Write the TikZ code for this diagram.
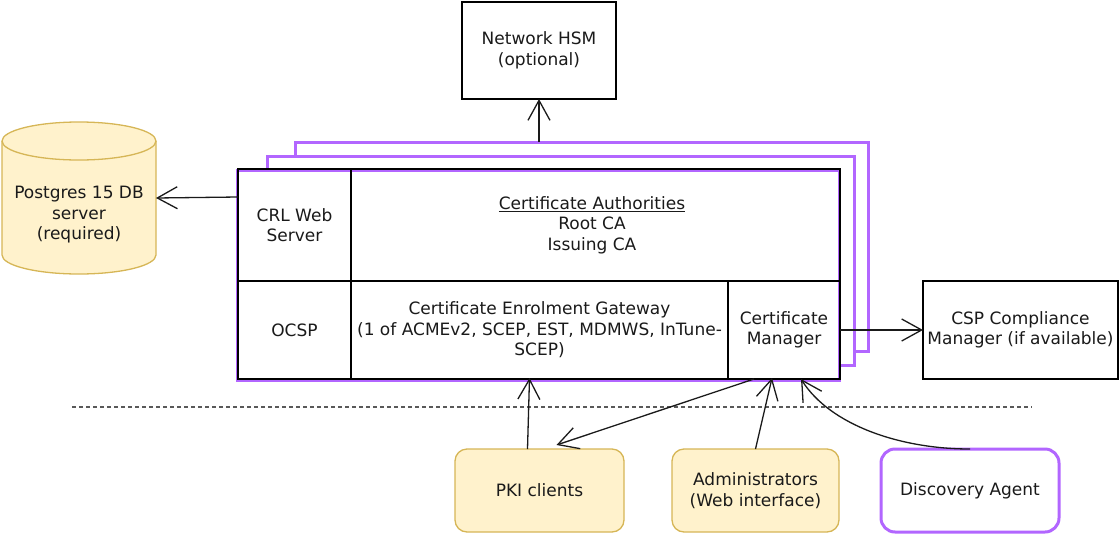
\documentclass[tikz,border=0pt]{standalone}
\usepackage{fontspec}
\setmainfont{DejaVu Sans}
\usetikzlibrary{arrows.meta,calc}
\definecolor{purp}{HTML}{B266FF}
\definecolor{yfill}{HTML}{FFF2CC}
\definecolor{ydraw}{HTML}{D6B656}
\definecolor{txt}{HTML}{1A1A1A}
\begin{document}
\begin{tikzpicture}[x=1pt,y=-1pt,
  every node/.style={font=\fontsize{17}{20.5}\selectfont, text=txt, align=center, inner sep=0pt, outer sep=0pt},
  plainbox/.style={draw=black, line width=1.3pt, fill=white},
  cell/.style={draw=black, line width=1.3pt},
  stackbox/.style={draw=purp, line width=3pt, fill=white},
  yellowbox/.style={draw=ydraw, line width=1.3pt, fill=yfill, rounded corners=12pt},
  agentbox/.style={draw=purp, line width=3pt, fill=white, rounded corners=14pt},
  arr/.style={line width=1.3pt, draw=txt, -{Straight Barb[length=20pt,width=22pt,line width=1.3pt]}},
  sep/.style={line width=1.3pt, draw=black!65, dash pattern=on 3.5pt off 3.5pt}
]
\useasboundingbox (0,0) rectangle (1119,536);

% Network HSM
\node[plainbox, minimum width=154pt, minimum height=97pt, anchor=north west] (hsm) at (462,2) {Network HSM\\(optional)};

% Postgres cylinder
\fill[yfill] (2,141) -- (2,255) arc (180:0:77 and 19) -- (156,141) -- cycle;
\draw[ydraw, line width=1.3pt] (2,141) -- (2,255) arc (180:0:77 and 19) -- (156,141);
\draw[ydraw, line width=1.3pt, fill=yfill] (79,141) ellipse (77 and 19);
\node[minimum width=154pt, minimum height=152pt] (db) at (79,198) {};
\node (dbtext) at (79,215) {Postgres 15 DB\\server\\(required)};

% stacked boxes
\node[stackbox, minimum width=573pt, minimum height=209pt, anchor=north west] (stackc) at (295,142) {};
\node[stackbox, minimum width=587pt, minimum height=209pt, anchor=north west] (stackb) at (267,156) {};
\node[stackbox, minimum width=602pt, minimum height=210pt, anchor=north west] (stacka) at (237,170) {};

% cells of front box
\node[cell, minimum width=113pt, minimum height=112pt, anchor=north west] (crl) at (238,169) {CRL Web\\Server};
\node[cell, minimum width=489pt, minimum height=112pt, anchor=north west] (ca) at (351,169) {};
\node (catext) at (592,225) {\underline{Certificate Authorities}\\Root CA\\Issuing CA};
\node[cell, minimum width=113pt, minimum height=98pt, anchor=north west] (ocsp) at (238,281) {OCSP};
\node[cell, minimum width=377pt, minimum height=98pt, anchor=north west] (ceg) at (351,281) {Certificate Enrolment Gateway\\(1 of ACMEv2, SCEP, EST, MDMWS, InTune-\\SCEP)};
\node[cell, minimum width=112pt, minimum height=98pt, anchor=north west] (cm) at (728,281) {Certificate\\Manager};

% CSP compliance manager
\node[plainbox, minimum width=195pt, minimum height=98pt, anchor=north west] (csp) at (923,281) {CSP Compliance\\Manager (if available)};

% separator
\coordinate (sepa) at (72,407);
\coordinate (sepb) at (1032,407);
\draw[sep] (sepa) -- (sepb);

% bottom nodes
\node[yellowbox, minimum width=169pt, minimum height=83pt, anchor=north west] (pki) at (455,449) {PKI clients};
\node[yellowbox, minimum width=167pt, minimum height=83pt, anchor=north west] (adm) at (672,449) {Administrators\\(Web interface)};
\node[agentbox, minimum width=178pt, minimum height=83pt, anchor=north west] (disc) at (881,449) {Discovery Agent};

% connectors
\draw[arr] (stackc.north -| hsm.south) -- (hsm.south);
\draw[arr] ($(crl.north west)!0.25!(crl.south west)$) -- (db.east);
\draw[arr] (cm.east) -- (csp.west);
\draw[arr] ($(pki.north)+(-12,0)$) -- ($(ceg.south)+(-10,-1)$);
\draw[arr] ($(cm.south)+(-30,0)$) -- ($(pki.north)+(17,-4)$);
\draw[arr] ($(adm.north)+(0,0)$) -- ($(cm.south)+(-12,-1)$);
\draw[arr] (disc.north) .. controls (900,449) and (830,425) .. ($(cm.south east)+(-39,0)$);
\end{tikzpicture}
\end{document}
